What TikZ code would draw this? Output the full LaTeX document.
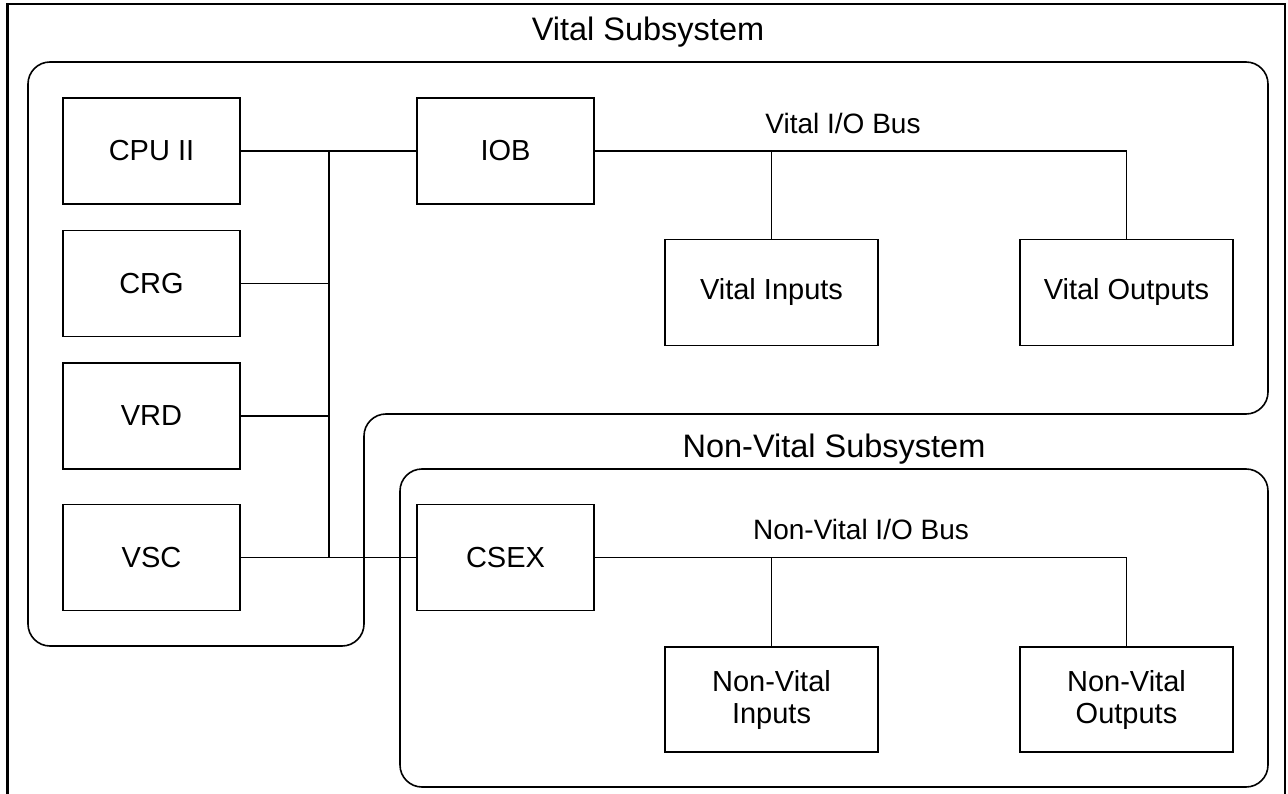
\documentclass[tikz,border=0pt]{standalone}
\usepackage{fontspec}
\setmainfont{Liberation Sans}
\begin{document}
\begin{tikzpicture}[x=1pt,y=-1pt,
  unit/.style={draw, line width=1.3pt, minimum width=177pt, minimum height=106pt,
    inner sep=0pt, font=\fontsize{29}{32}\selectfont, align=center},
  iounit/.style={unit, minimum width=213pt},
  wire/.style={line width=1.3pt},
  group/.style={line width=1.6pt, rounded corners=22pt},
  title/.style={font=\fontsize{32.5}{35}\selectfont},
  buslabel/.style={font=\fontsize{28}{31}\selectfont}]
\useasboundingbox (0,0) rectangle (1288,794);

% page frame, open at the bottom
\draw[line width=2.4pt] (7.5,794) -- (7.5,4) -- (1285,4) -- (1285,794);

% subsystem outlines
\draw[group] (28,62) -- (1268,62) -- (1268,414) -- (364,414) -- (364,646) -- (28,646) -- cycle;
\draw[group] (400,469) rectangle (1268,787);

\node[title] (vtitle) at (648,32) {Vital Subsystem};
\node[title] (nvtitle) at (834,449) {Non-Vital Subsystem};

% vital units
\node[unit] (cpu) at (151.5,151) {CPU II};
\node[unit] (crg) at (151.5,283.5) {CRG};
\node[unit] (vrd) at (151.5,416) {VRD};
\node[unit] (vsc) at (151.5,557.5) {VSC};
\node[unit] (iob) at (505.5,151) {IOB};
\node[iounit] (vin) at (771.5,292.5) {Vital Inputs};
\node[iounit] (vout) at (1126.5,292.5) {Vital Outputs};

% non-vital units
\node[unit] (csex) at (505.5,557.5) {CSEX};
\node[iounit, minimum height=105pt] (nvin) at (771.5,699.5) {Non-Vital\\Inputs};
\node[iounit, minimum height=105pt] (nvout) at (1126.5,699.5) {Non-Vital\\Outputs};

\node[buslabel] (vbus) at (843,123) {Vital I/O Bus};
\node[buslabel] (nvbus) at (861,529) {Non-Vital I/O Bus};

% processor bus
\coordinate (btop) at (329,151);
\coordinate (bbot) at (329,557.5);
\draw[wire] (cpu.east) -- (iob.west);
\draw[wire] (btop) -- (bbot);
\draw[wire] (crg.east) -- (crg.east -| btop);
\draw[wire] (vrd.east) -- (vrd.east -| btop);
\draw[wire] (vsc.east) -- (csex.west);

% vital I/O bus
\draw[wire] (iob.east) -| (vout.north);
\draw[wire] (vin.north) -- (vin.north |- iob.east);

% non-vital I/O bus
\draw[wire] (csex.east) -| (nvout.north);
\draw[wire] (nvin.north) -- (nvin.north |- csex.east);
\end{tikzpicture}
\end{document}
